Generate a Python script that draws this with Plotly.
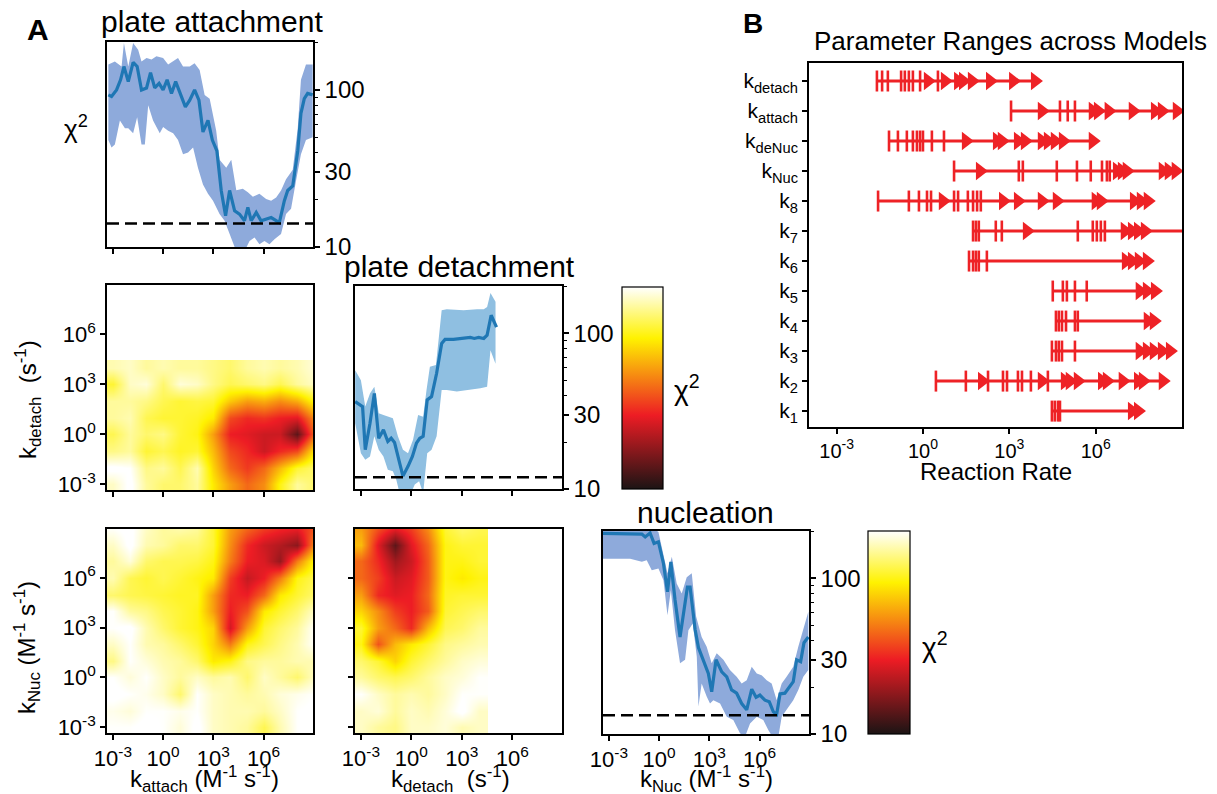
import math
import plotly.graph_objects as go

W, H = 1217, 794
FONT = "Liberation Sans, Arial, Helvetica, sans-serif"

# ---------------- data (x values are log10 of the rate) ----------------
# plate attachment: chi2 vs log10 k_attach
att_med_x = [-3.27, -3.08, -2.78, -2.54, -2.34, -2.08, -1.79, -1.55, -1.29, -0.99, -0.75, -0.50, -0.24, 0.00, 0.24, 0.50, 0.75, 1.03, 1.33, 1.59,
             1.88, 2.14, 2.38, 2.68, 2.94, 3.21, 3.47, 3.73, 3.97, 4.27, 4.56, 4.86, 5.06, 5.26, 5.56, 5.85, 6.15, 6.45, 6.75, 6.94,
             7.24, 7.44, 7.74, 8.04, 8.23, 8.43, 8.63, 8.93]
att_med_y = [93, 91, 100, 116, 141, 113, 150, 141, 100, 103, 129, 103, 110, 100, 116, 95, 113, 93, 78, 86,
             100, 86, 54, 64, 48, 41, 22.9, 15.8, 22.9, 17.0, 16.2, 14.7, 17.9, 14.7, 16.6, 14.7, 15.0, 15.4, 14.7, 14.3,
             19.7, 22.9, 24.5, 41, 71, 88, 95, 93]
att_up_x = [-3.27, -2.88, -2.48, -2.34, -2.08, -1.79, -1.49, -1.29, -0.99, -0.69, -0.40, 0.00, 0.30, 0.60, 0.89, 1.19, 1.59, 1.88, 2.18, 2.48,
            2.78, 3.17, 3.37, 3.77, 4.07, 4.37, 4.76, 5.06, 5.36, 5.75, 6.15, 6.45, 6.75, 7.04, 7.34, 7.74, 8.04, 8.23, 8.53, 8.93]
att_up_y = [145, 152, 141, 199, 141, 199, 180, 152, 160, 156, 164, 160, 145, 152, 160, 141, 141, 148, 134, 93,
            88, 55, 36, 32, 36, 23, 23.5, 22.3, 20.9, 21.8, 20.2, 19.7, 20.7, 22.9, 27, 31, 57, 116, 145, 145]
att_lo_x = [-3.27, -3.08, -2.88, -2.58, -2.28, -2.08, -1.79, -1.55, -1.29, -1.09, -0.89, -0.60, -0.40, -0.20, 0.00, 0.30, 0.60, 0.89, 1.19, 1.49,
            1.79, 2.08, 2.38, 2.68, 2.98, 3.37, 3.67, 3.97, 4.27, 4.56, 4.86, 5.16, 5.46, 5.75, 6.05, 6.35, 6.65, 7.04, 7.34, 7.64,
            7.94, 8.23, 8.53, 8.93]
att_lo_y = [48, 43, 45, 64, 57, 57, 53, 67, 45, 45, 80, 64, 58, 53, 58, 55, 53, 48, 39, 40,
            43, 32, 25, 21.8, 19.7, 16.2, 14.7, 12.1, 10.0, 9.0, 9.4, 10.9, 11.5, 10.4, 10.9, 10.4, 11.2, 12.1, 16.2, 17.5,
            26.5, 39, 48, 50]
att_threshold = 14.1

# plate detachment: chi2 vs log10 k_detach
det_med_x = [-3.34, -3.10, -2.90, -2.74, -2.46, -2.20, -1.94, -1.66, -1.40, -1.20, -1.00, -0.70, -0.50, -0.20, 0.06, 0.30, 0.50, 0.70, 0.94, 1.20,
             1.50, 1.80, 2.00, 2.50, 3.10, 3.50, 3.74, 4.00, 4.30, 4.50, 4.74, 5.06]
det_med_y = [36.5, 34.8, 33.9, 17.9, 26.5, 41.2, 21.2, 24.0, 20.2, 21.2, 19.9, 14.7, 12.1, 14.0, 16.2, 19.7, 21.2, 21.8, 37.4, 39.3,
             55.5, 86.3, 91.6, 91.6, 92.9, 94.3, 92.9, 94.3, 92.9, 97.6, 131, 110]
det_up_x = [-3.34, -3.00, -2.74, -2.46, -2.20, -1.94, -1.66, -1.40, -1.10, -0.80, -0.50, -0.20, 0.10, 0.40, 0.70, 0.90, 1.10, 1.46, 1.80, 2.10,
            3.10, 3.90, 4.30, 4.50, 4.70, 5.00]
det_up_y = [58, 50, 33.9, 41.2, 45.5, 30.7, 29.9, 29.2, 28.5, 21.8, 17.9, 17.0, 20.7, 29.9, 29.2, 43.3, 61.1, 62.6, 141, 143,
            141, 143, 143, 148, 182, 160]
det_lo_x = [-3.34, -3.00, -2.74, -2.46, -2.20, -1.94, -1.66, -1.40, -1.10, -0.90, -0.70, -0.10, 0.20, 0.46, 0.70, 0.94, 1.20, 1.50, 1.80, 2.10,
            2.70, 3.50, 4.10, 4.50, 4.70, 5.00]
det_lo_y = [26.5, 17.0, 15.4, 16.2, 21.8, 17.9, 16.2, 13.3, 13.0, 11.5, 9.4, 9.0, 10.7, 11.2, 9.4, 17.0, 17.9, 21.8, 43.3, 43.3,
            42.3, 43.3, 44.4, 45.5, 78, 64]
det_threshold = 11.9

# nucleation: chi2 vs log10 k_Nuc
nuc_med_x = [-3.36, -2.72, -1.73, -1.03, -0.83, -0.54, -0.30, -0.04, 0.26, 0.50, 0.70, 0.95, 1.25, 1.49, 1.69, 1.85, 2.15, 2.35, 2.64, 2.94,
             3.14, 3.40, 3.74, 4.04, 4.33, 4.63, 4.93, 5.23, 5.53, 5.79, 6.02, 6.32, 6.58, 6.82, 7.02, 7.22, 7.51, 7.77, 8.01, 8.21,
             8.45, 8.65, 8.91]
nuc_med_y = [195, 195, 195, 193, 185, 196, 168, 172, 125, 82, 128, 73, 42, 66, 88, 88, 47, 36, 30, 24.5,
             18.7, 30, 25.1, 23.3, 19.2, 18.3, 15.7, 14.3, 19.4, 17.2, 17.8, 16.5, 16.1, 13.9, 13.4, 18.1, 18.3, 20.1, 21.7, 30,
             29.2, 38.6, 42]
nuc_up_x = [-3.36, -1.03, -0.34, -0.04, 0.22, 0.50, 0.76, 1.05, 1.35, 1.65, 1.95, 2.21, 2.54, 2.84, 3.14, 3.44, 3.84, 4.23, 4.63, 4.93,
            5.23, 5.53, 5.83, 6.12, 6.42, 6.72, 7.02, 7.32, 7.61, 8.01, 8.31, 8.61, 8.91]
nuc_up_y = [210, 210, 210, 199, 145, 108, 138, 93, 80, 102, 108, 57, 42, 36.4, 28.5, 33, 30, 25.8, 23.3, 21.1,
            22.2, 27.1, 24.5, 23.9, 22.2, 21.1, 16.5, 21.1, 23.3, 27.1, 36.4, 46.5, 61]
nuc_lo_x = [-3.36, -1.73, -1.03, -0.74, -0.44, -0.04, 0.26, 0.50, 0.70, 0.95, 1.25, 1.55, 1.75, 2.01, 2.25, 2.35, 2.54, 2.84, 3.04, 3.24,
            3.64, 4.04, 4.43, 4.83, 5.13, 5.43, 5.83, 6.22, 6.52, 6.82, 7.12, 7.32, 7.61, 8.01, 8.31, 8.61, 8.91]
nuc_lo_y = [134, 134, 128, 131, 113, 116, 97.5, 58, 84, 46.5, 28.5, 30, 46.5, 51.4, 31.4, 15.0, 21.1, 17.4, 15.7, 16.5,
            15.7, 12.9, 12.3, 10.1, 9.6, 11.7, 12.9, 12.3, 10.6, 9.4, 9.6, 12.9, 14.3, 16.5, 19.2, 23.3, 25.8]
nuc_threshold = 13.2

# 2-D chi2 maps on a log10 grid; rows = y from -3 to 9, columns = x from -3 to 9 (None = not sampled)
grid_log = list(range(-3, 10))
N = None
chi2_attach_detach = [
    [170, 210, 150, 130, 130, 150, 90, 60, 45, 55, 100, 150, 130],
    [210, 200, 140, 150, 120, 160, 80, 45, 35, 45, 70, 110, 130],
    [140, 150, 110, 120, 105, 110, 70, 38, 32, 25, 32, 38, 90],
    [120, 150, 130, 140, 110, 100, 60, 30, 28, 25, 25, 14, 45],
    [150, 160, 120, 110, 110, 105, 90, 38, 32, 34, 30, 28, 55],
    [150, 150, 140, 120, 110, 115, 110, 75, 60, 65, 55, 65, 100],
    [110, 170, 180, 130, 180, 170, 140, 120, 130, 140, 120, 150, 170],
    [160, 170, 150, 160, 150, 150, 140, 130, 150, 160, 150, 160, 180],
    [N] * 13, [N] * 13, [N] * 13, [N] * 13, [N] * 13,
]
chi2_attach_nuc = [
    [200, 200, 210, 200, 180, 210, 170, 160, 150, 120, 160, 200, 210],
    [190, 180, 200, 200, 190, 200, 170, 160, 160, 150, 170, 200, 210],
    [210, 200, 190, 170, 130, 200, 170, 160, 150, 160, 180, 190, 200],
    [200, 180, 200, 170, 150, 170, 150, 160, 130, 170, 150, 130, 170],
    [140, 200, 180, 160, 150, 130, 90, 100, 140, 150, 150, 160, 160],
    [170, 200, 160, 150, 130, 110, 80, 50, 100, 120, 140, 160, 200],
    [200, 210, 160, 130, 110, 100, 80, 26, 60, 110, 130, 150, 200],
    [200, 150, 140, 120, 110, 100, 60, 30, 40, 90, 110, 130, 170],
    [130, 120, 115, 110, 105, 105, 60, 32, 30, 45, 90, 110, 130],
    [160, 120, 110, 120, 110, 100, 90, 36, 24, 30, 50, 100, 120],
    [150, 180, 130, 120, 120, 115, 100, 50, 30, 27, 19, 50, 100],
    [170, 210, 160, 150, 130, 130, 110, 55, 32, 25, 22, 18, 55],
    [200, 210, 170, 150, 160, 150, 110, 60, 45, 36, 32, 30, 40],
]
chi2_detach_nuc = [
    [170, 150, 140, 170, 170, 180, 160, 170, N, N, N, N, N],
    [170, 180, 150, 170, 160, 180, 210, 170, N, N, N, N, N],
    [200, 170, 150, 160, 150, 170, 200, 200, N, N, N, N, N],
    [150, 130, 120, 130, 150, 170, 180, 200, N, N, N, N, N],
    [130, 110, 80, 110, 130, 150, 170, 180, N, N, N, N, N],
    [100, 40, 70, 90, 110, 140, 150, 160, N, N, N, N, N],
    [110, 60, 45, 32, 70, 120, 130, 150, N, N, N, N, N],
    [80, 55, 36, 30, 42, 110, 120, 130, N, N, N, N, N],
    [60, 32, 28, 30, 45, 105, 110, 110, N, N, N, N, N],
    [45, 36, 25, 28, 42, 100, 90, 100, N, N, N, N, N],
    [45, 32, 20, 25, 42, 100, 100, 110, N, N, N, N, N],
    [70, 28, 14, 28, 45, 100, 110, 110, N, N, N, N, N],
    [60, 40, 30, 36, 55, 110, 130, 120, N, N, N, N, N],
]

# Panel B: parameter ranges across models (log10 of rate); lows = '|' caps, highs = '>' arrows
param_names = ["k<sub>1</sub>", "k<sub>2</sub>", "k<sub>3</sub>", "k<sub>4</sub>", "k<sub>5</sub>", "k<sub>6</sub>",
               "k<sub>7</sub>", "k<sub>8</sub>", "k<sub>Nuc</sub>", "k<sub>deNuc</sub>", "k<sub>attach</sub>", "k<sub>detach</sub>"]
k1_low = [4.48, 4.58, 4.69, 4.76]
k1_high = [7.26, 7.47]
k2_low = [0.45, 1.49, 2.26, 2.78, 2.92, 3.30, 3.44, 3.75, 4.34]
k2_high = [2.05, 4.13, 4.93, 5.10, 5.38, 6.22, 6.39, 6.94, 7.47, 7.64, 8.33]
k3_low = [4.48, 4.62, 4.72, 4.83, 5.28]
k3_high = [7.53, 7.78, 8.02, 8.30, 8.58]
k4_low = [4.62, 4.72, 4.83, 4.97, 5.28, 5.38]
k4_high = [7.81, 8.02]
k5_low = [4.51, 4.86, 5.00, 5.28, 5.69]
k5_high = [7.53, 7.78, 8.06]
k6_low = [1.60, 1.74, 1.84, 1.94, 2.22]
k6_high = [7.05, 7.26, 7.50, 7.78]
k7_low = [1.74, 1.84, 1.94, 2.53, 2.74, 5.38, 5.90, 6.04, 6.18, 6.32]
k7_high = [3.61, 7.01, 7.26, 7.47, 7.71, 9.6]
k8_low = [-1.56, -0.49, -0.14, 0.14, 0.28, 1.08, 1.22, 1.56, 1.74, 1.88, 2.01]
k8_high = [0.69, 2.78, 3.30, 4.13, 4.65, 6.00, 6.18, 7.33, 7.57, 7.81]
knuc_low = [1.08, 3.33, 3.47, 4.65, 5.35, 5.83, 6.22, 6.39, 6.49]
knuc_high = [1.98, 6.74, 6.91, 7.08, 8.33, 8.54, 8.78]
kdenuc_low = [-1.18, -0.87, -0.56, -0.35, -0.21, -0.10, 0.00, 0.31, 0.73]
kdenuc_high = [1.49, 2.57, 2.74, 3.30, 3.54, 4.13, 4.34, 4.58, 4.86, 5.90]
kattach_low = [3.06, 4.76, 5.03, 5.28]
kattach_high = [4.13, 5.90, 6.08, 6.45, 7.29, 8.06, 8.30, 8.82]
kdetach_low = [-1.60, -1.42, -1.22, -0.76, -0.63, -0.49, -0.35, -0.10, 0.52]
kdetach_high = [0.17, 0.76, 1.22, 1.39, 1.70, 2.33, 3.13, 3.89]

lows = [k1_low, k2_low, k3_low, k4_low, k5_low, k6_low, k7_low, k8_low, knuc_low, kdenuc_low, kattach_low, kdetach_low]
highs = [k1_high, k2_high, k3_high, k4_high, k5_high, k6_high, k7_high, k8_high, knuc_high, kdenuc_high, kattach_high, kdetach_high]

# ---------------- styling ----------------
LOG_RANGE = [-3.35, 8.95]
CHI_RANGE = [1.0, math.log10(202)]
EXP_VALS = [-3, 0, 3, 6]
EXP_TEXT = ["10<sup>-3</sup>", "10<sup>0</sup>", "10<sup>3</sup>", "10<sup>6</sup>"]
CHI_TICKS = [10, 30, 100]
CHI_MINOR = [20, 40, 50, 60, 70, 80, 90, 200]
HOT = [[0.0, "#1c1414"], [0.365, "#ed1c24"], [0.746, "#fff200"], [1.0, "#ffffff"]]
LINE_BLUE = "#1f77b4"
RED = "#ee2226"


def dom_x(a, b):
    return [a / W, b / W]


def dom_y(top, bottom):
    return [1 - bottom / H, 1 - top / H]


def base_axis(**kw):
    d = dict(showline=True, linecolor="black", linewidth=1.6, mirror=True, automargin=False,
             ticks="outside", ticklen=5, tickwidth=1.5, tickcolor="black",
             showgrid=False, zeroline=False,
             tickfont=dict(family=FONT, size=22, color="black"))
    d.update(kw)
    return d


def log_x_axis(domain, anchor, labels):
    return base_axis(domain=domain, anchor=anchor, range=LOG_RANGE, tickmode="array",
                     tickvals=EXP_VALS, ticktext=EXP_TEXT, showticklabels=labels)


def chi_axis(domain, anchor):
    return base_axis(domain=domain, anchor=anchor, type="log", range=CHI_RANGE, side="right",
                     tickmode="array", tickvals=CHI_TICKS, ticktext=[str(v) for v in CHI_TICKS],
                     tickfont=dict(family=FONT, size=24, color="black"),
                     minor=dict(tickmode="array", tickvals=CHI_MINOR, ticks="outside",
                                ticklen=3, tickwidth=1, tickcolor="black"))


def to_log(grid):
    return [[math.log10(v) if v is not None else None for v in row] for row in grid]


fig = go.Figure()


def add_profile(xa, ya, mx, my, ux, uy, lx, ly, thr, band):
    fig.add_trace(go.Scatter(x=ux + lx[::-1], y=uy + ly[::-1], fill="toself", fillcolor=band,
                             mode="lines", line=dict(width=0), hoverinfo="skip", xaxis=xa, yaxis=ya))
    fig.add_trace(go.Scatter(x=mx, y=my, mode="lines", line=dict(color=LINE_BLUE, width=3.2),
                             xaxis=xa, yaxis=ya))
    fig.add_trace(go.Scatter(x=LOG_RANGE, y=[thr, thr], mode="lines",
                             line=dict(color="black", width=2.5, dash="12px,6px"), xaxis=xa, yaxis=ya))


add_profile("x", "y", att_med_x, att_med_y, att_up_x, att_up_y, att_lo_x, att_lo_y, att_threshold, "#8eaadb")
add_profile("x3", "y3", det_med_x, det_med_y, det_up_x, det_up_y, det_lo_x, det_lo_y, det_threshold, "#8fbfe1")
add_profile("x6", "y6", nuc_med_x, nuc_med_y, nuc_up_x, nuc_up_y, nuc_lo_x, nuc_lo_y, nuc_threshold, "#8eaadb")

fig.add_trace(go.Heatmap(x=grid_log, y=grid_log, z=to_log(chi2_attach_detach), zsmooth="best",
                         coloraxis="coloraxis", xaxis="x2", yaxis="y2", hoverongaps=False))
fig.add_trace(go.Heatmap(x=grid_log, y=grid_log, z=to_log(chi2_attach_nuc), zsmooth="best",
                         coloraxis="coloraxis2", xaxis="x4", yaxis="y4", hoverongaps=False))
fig.add_trace(go.Heatmap(x=grid_log, y=grid_log, z=to_log(chi2_detach_nuc), zsmooth="best",
                         coloraxis="coloraxis2", xaxis="x5", yaxis="y5", hoverongaps=False))

# Panel B
cap_x, cap_y, arr_x, arr_y = [], [], [], []
for i, (lo, hi) in enumerate(zip(lows, highs)):
    vals = lo + hi
    fig.add_trace(go.Scatter(x=[min(vals), max(vals)], y=[i, i], mode="lines",
                             line=dict(color=RED, width=3), xaxis="x7", yaxis="y7"))
    cap_x += lo
    cap_y += [i] * len(lo)
    arr_x += hi
    arr_y += [i] * len(hi)
fig.add_trace(go.Scatter(x=cap_x, y=cap_y, mode="markers", xaxis="x7", yaxis="y7",
                         marker=dict(symbol="line-ns", size=15, line=dict(color=RED, width=2.6))))
fig.add_trace(go.Scatter(x=arr_x, y=arr_y, mode="markers", xaxis="x7", yaxis="y7",
                         marker=dict(symbol="triangle-right", size=16, color=RED, line=dict(width=0))))


def colorbar(left, top, bottom, thick):
    return dict(thickness=thick, thicknessmode="pixels", len=bottom - top, lenmode="pixels",
                x=left / W, xanchor="left", y=1 - bottom / H, yanchor="bottom",
                xpad=0, ypad=0, outlinewidth=1.2, outlinecolor="black",
                showticklabels=False, ticks="")


def ann(text, x, y, size, bold=False, angle=0):
    t = f"<b>{text}</b>" if bold else text
    return dict(text=t, x=x / W, y=1 - y / H, xref="paper", yref="paper", showarrow=False,
                xanchor="center", yanchor="middle", textangle=angle,
                font=dict(family=FONT, size=size, color="black"))


annotations = [
    ann("A", 38, 29, 30, bold=True),
    ann("B", 753, 23, 28, bold=True),
    ann("plate attachment", 212, 22, 30),
    ann("plate detachment", 459, 266, 30),
    ann("nucleation", 705, 512, 30),
    ann("Parameter Ranges across Models", 1010, 41, 26),
    ann("\u03c7<sup>2</sup>", 76, 128, 26),
    ann("\u03c7<sup>2</sup>", 687, 388, 28),
    ann("\u03c7<sup>2</sup>", 935, 645, 28),
    ann("k<sub>detach</sub>  (s<sup>-1</sup>)", 28, 400, 24, angle=-90),
    ann("k<sub>Nuc</sub> (M<sup>-1</sup> s<sup>-1</sup>)", 27, 648, 24, angle=-90),
    ann("k<sub>attach</sub> (M<sup>-1</sup> s<sup>-1</sup>)", 204, 779, 24),
    ann("k<sub>detach</sub>  (s<sup>-1</sup>)", 450, 779, 24),
    ann("k<sub>Nuc</sub> (M<sup>-1</sup> s<sup>-1</sup>)", 707, 779, 24),
    ann("Reaction Rate", 996, 472, 24),
]

fig.update_layout(
    width=W, height=H, margin=dict(l=0, r=0, t=0, b=0, autoexpand=False),
    paper_bgcolor="white", plot_bgcolor="white", showlegend=False,
    font=dict(family=FONT, color="black"),
    xaxis=log_x_axis(dom_x(107, 313), "y", False),
    yaxis=chi_axis(dom_y(42, 247), "x"),
    xaxis2=log_x_axis(dom_x(107, 313), "y2", False),
    yaxis2=log_x_axis(dom_y(285, 490), "x2", True),
    xaxis3=log_x_axis(dom_x(355, 562), "y3", False),
    yaxis3=chi_axis(dom_y(286, 489), "x3"),
    xaxis4=log_x_axis(dom_x(107, 313), "y4", True),
    yaxis4=log_x_axis(dom_y(529, 733), "x4", True),
    xaxis5=log_x_axis(dom_x(355, 562), "y5", True),
    yaxis5=log_x_axis(dom_y(529, 733), "x5", False),
    xaxis6=log_x_axis(dom_x(603, 809), "y6", True),
    yaxis6=chi_axis(dom_y(531, 734), "x6"),
    xaxis7=base_axis(domain=dom_x(809, 1182), anchor="y7", range=[-3.96, 9.0], tickmode="array",
                     tickvals=EXP_VALS, ticktext=EXP_TEXT,
                     tickfont=dict(family=FONT, size=20, color="black")),
    yaxis7=base_axis(domain=dom_y(63, 427), anchor="x7", range=[-0.53, 11.6], tickmode="array",
                     tickvals=list(range(len(param_names))), ticktext=param_names,
                     tickfont=dict(family=FONT, size=21, color="black")),
    coloraxis=dict(colorscale=HOT, cmin=CHI_RANGE[0], cmax=CHI_RANGE[1],
                   colorbar=colorbar(622, 287, 489, 41)),
    coloraxis2=dict(colorscale=HOT, cmin=CHI_RANGE[0], cmax=CHI_RANGE[1],
                    colorbar=colorbar(868, 531, 734, 42)),
    annotations=annotations,
)

fig.write_html("out.html")
